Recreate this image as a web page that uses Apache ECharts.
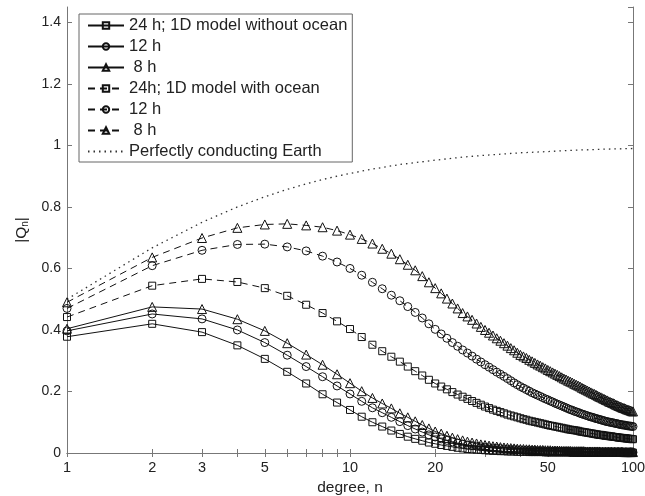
<!DOCTYPE html>
<html>
<head>
<meta charset="utf-8">
<script src="https://cdn.jsdelivr.net/npm/echarts@6/dist/echarts.min.js"></script>
<style>
  html, body { margin: 0; padding: 0; background: #fff; }
  #chart { width: 645px; height: 496px; }
</style>
</head>
<body>
<div id="chart"></div>
<script>
// degree n = 1..100 (one marker per degree)
const degrees = Array.from({ length: 100 }, (_, i) => i + 1);

const xLabelValues = [1, 2, 3, 5, 10, 20, 50, 100];
const xTickValues = [1, 2, 3, 4, 5, 6, 7, 8, 9, 10, 20, 30, 40, 50, 60, 70, 80, 90, 100];

// 1D model without ocean
const noOcean24 = [
  0.378, 0.420, 0.393, 0.350, 0.306, 0.264, 0.226, 0.191, 0.164, 0.140,
  0.118, 0.100, 0.086, 0.073, 0.062, 0.053, 0.046, 0.040, 0.034, 0.030,
  0.026, 0.023, 0.020, 0.017, 0.015, 0.013, 0.012, 0.011, 0.010, 0.009,
  0.008, 0.007, 0.007, 0.006, 0.006, 0.005, 0.005, 0.005, 0.004, 0.004,
  0.004, 0.004, 0.003, 0.003, 0.003, 0.003, 0.003, 0.003, 0.002, 0.002,
  0.002, 0.002, 0.002, 0.002, 0.002, 0.002, 0.002, 0.002, 0.002, 0.002,
  0.001, 0.001, 0.001, 0.001, 0.001, 0.001, 0.001, 0.001, 0.001, 0.001,
  0.001, 0.001, 0.001, 0.001, 0.001, 0.001, 0.001, 0.001, 0.001, 0.001,
  0.001, 0.001, 0.001, 0.001, 0.001, 0.001, 0.001, 0.001, 0.001, 0.001,
  0.001, 0.001, 0.001, 0.001, 0.001, 0.001, 0.001, 0.001, 0.001, 0.001
];
const noOcean12 = [
  0.397, 0.452, 0.436, 0.400, 0.359, 0.318, 0.281, 0.248, 0.218, 0.192,
  0.168, 0.147, 0.131, 0.116, 0.102, 0.089, 0.078, 0.068, 0.059, 0.052,
  0.046, 0.041, 0.036, 0.032, 0.029, 0.026, 0.024, 0.022, 0.020, 0.019,
  0.017, 0.016, 0.015, 0.014, 0.013, 0.012, 0.011, 0.011, 0.010, 0.010,
  0.009, 0.009, 0.008, 0.008, 0.008, 0.007, 0.007, 0.007, 0.006, 0.006,
  0.006, 0.006, 0.006, 0.005, 0.005, 0.005, 0.005, 0.005, 0.005, 0.004,
  0.004, 0.004, 0.004, 0.004, 0.004, 0.004, 0.004, 0.004, 0.003, 0.003,
  0.003, 0.003, 0.003, 0.003, 0.003, 0.003, 0.003, 0.003, 0.003, 0.003,
  0.003, 0.003, 0.003, 0.003, 0.002, 0.002, 0.002, 0.002, 0.002, 0.002,
  0.002, 0.002, 0.002, 0.002, 0.002, 0.002, 0.002, 0.002, 0.002, 0.002
];
const noOcean8 = [
  0.404, 0.475, 0.468, 0.435, 0.397, 0.357, 0.320, 0.287, 0.256, 0.227,
  0.201, 0.179, 0.161, 0.145, 0.129, 0.116, 0.103, 0.091, 0.080, 0.070,
  0.063, 0.056, 0.050, 0.045, 0.041, 0.037, 0.034, 0.031, 0.028, 0.026,
  0.024, 0.022, 0.021, 0.019, 0.018, 0.017, 0.016, 0.015, 0.014, 0.013,
  0.013, 0.012, 0.012, 0.011, 0.011, 0.010, 0.010, 0.010, 0.009, 0.009,
  0.009, 0.008, 0.008, 0.008, 0.008, 0.007, 0.007, 0.007, 0.007, 0.007,
  0.006, 0.006, 0.006, 0.006, 0.006, 0.006, 0.006, 0.005, 0.005, 0.005,
  0.005, 0.005, 0.005, 0.005, 0.005, 0.005, 0.004, 0.004, 0.004, 0.004,
  0.004, 0.004, 0.004, 0.004, 0.004, 0.004, 0.004, 0.004, 0.004, 0.004,
  0.004, 0.004, 0.003, 0.003, 0.003, 0.003, 0.003, 0.003, 0.003, 0.003
];

// 1D model with ocean
const ocean24 = [
  0.442, 0.544, 0.566, 0.556, 0.536, 0.511, 0.482, 0.455, 0.428, 0.403,
  0.377, 0.352, 0.331, 0.313, 0.297, 0.281, 0.266, 0.252, 0.238, 0.226,
  0.216, 0.207, 0.198, 0.190, 0.183, 0.176, 0.169, 0.163, 0.157, 0.151,
  0.146, 0.141, 0.137, 0.133, 0.129, 0.125, 0.122, 0.119, 0.116, 0.113,
  0.110, 0.108, 0.105, 0.103, 0.101, 0.099, 0.097, 0.095, 0.093, 0.091,
  0.089, 0.088, 0.086, 0.085, 0.083, 0.082, 0.080, 0.079, 0.077, 0.076,
  0.075, 0.074, 0.073, 0.072, 0.070, 0.069, 0.068, 0.067, 0.066, 0.065,
  0.064, 0.063, 0.062, 0.061, 0.060, 0.059, 0.059, 0.058, 0.057, 0.056,
  0.056, 0.055, 0.054, 0.054, 0.053, 0.052, 0.052, 0.051, 0.050, 0.050,
  0.049, 0.049, 0.048, 0.048, 0.047, 0.047, 0.046, 0.046, 0.045, 0.045
];
const ocean12 = [
  0.470, 0.609, 0.659, 0.678, 0.679, 0.670, 0.657, 0.640, 0.621, 0.600,
  0.578, 0.555, 0.534, 0.513, 0.495, 0.476, 0.457, 0.439, 0.420, 0.402,
  0.387, 0.373, 0.359, 0.347, 0.335, 0.325, 0.315, 0.305, 0.296, 0.287,
  0.279, 0.271, 0.263, 0.256, 0.249, 0.242, 0.235, 0.228, 0.222, 0.216,
  0.211, 0.206, 0.201, 0.196, 0.192, 0.188, 0.184, 0.180, 0.176, 0.173,
  0.169, 0.166, 0.162, 0.159, 0.156, 0.153, 0.150, 0.147, 0.144, 0.141,
  0.139, 0.136, 0.134, 0.132, 0.129, 0.127, 0.125, 0.123, 0.121, 0.119,
  0.117, 0.116, 0.114, 0.112, 0.111, 0.109, 0.108, 0.106, 0.105, 0.103,
  0.102, 0.101, 0.100, 0.099, 0.098, 0.097, 0.096, 0.095, 0.094, 0.093,
  0.092, 0.091, 0.091, 0.090, 0.089, 0.088, 0.088, 0.087, 0.087, 0.086
];
const ocean8 = [
  0.490, 0.636, 0.699, 0.732, 0.743, 0.745, 0.740, 0.734, 0.723, 0.710,
  0.696, 0.681, 0.664, 0.648, 0.630, 0.612, 0.594, 0.575, 0.555, 0.536,
  0.519, 0.502, 0.486, 0.470, 0.455, 0.444, 0.433, 0.421, 0.410, 0.400,
  0.391, 0.382, 0.373, 0.365, 0.357, 0.349, 0.341, 0.334, 0.326, 0.319,
  0.314, 0.309, 0.303, 0.298, 0.293, 0.288, 0.284, 0.279, 0.275, 0.270,
  0.266, 0.262, 0.258, 0.254, 0.250, 0.246, 0.242, 0.239, 0.235, 0.232,
  0.229, 0.225, 0.222, 0.219, 0.216, 0.212, 0.209, 0.206, 0.203, 0.200,
  0.197, 0.194, 0.192, 0.189, 0.186, 0.183, 0.181, 0.178, 0.176, 0.173,
  0.171, 0.168, 0.166, 0.164, 0.162, 0.160, 0.157, 0.155, 0.153, 0.151,
  0.149, 0.147, 0.146, 0.144, 0.142, 0.141, 0.139, 0.138, 0.136, 0.135
];

// perfectly conducting Earth
const perfectDegrees = [1, 2, 3, 4, 5, 6, 7, 8, 9, 10, 12, 15, 20, 25, 30, 40, 50, 60, 70, 80, 90, 100];
const perfectValues = [0.500, 0.667, 0.750, 0.800, 0.833, 0.857, 0.875, 0.889, 0.900, 0.909,
  0.923, 0.938, 0.952, 0.962, 0.968, 0.976, 0.980, 0.984, 0.986, 0.988, 0.989, 0.990];

const pair = (xs, ys) => xs.map((x, i) => [x, ys[i]]);

const FONT = 'Liberation Sans';
const INK = '#111';

const markerSeries = (name, values, symbol, size, dashed) => ({
  name,
  type: 'line',
  data: pair(degrees, values),
  symbol,
  symbolSize: size,
  showAllSymbol: true,
  itemStyle: { color: 'rgba(0,0,0,0)', borderColor: INK, borderWidth: 1 },
  lineStyle: { color: INK, width: 1, type: dashed ? [7, 5] : 'solid' },
  emphasis: { disabled: true },
  z: 3
});

const chart = echarts.init(document.getElementById('chart'));

chart.setOption({
  animation: false,
  textStyle: { fontFamily: FONT },
  grid: { left: 67, right: 12, top: 7, bottom: 43, outerBoundsMode: 'none' },
  legend: {
    orient: 'vertical',
    left: 79,
    top: 14,
    padding: [3, 5, 2, 8],
    itemGap: 4,
    itemWidth: 36,
    itemHeight: 8,
    borderColor: '#666',
    borderWidth: 1,
    backgroundColor: '#fff',
    textStyle: { fontFamily: FONT, fontSize: 16.5, color: '#222', lineHeight: 17 },
    data: [
      '24 h; 1D model without ocean', '12 h', ' 8 h',
      '24h; 1D model with ocean', '12 h ', ' 8 h ',
      { name: 'Perfectly conducting Earth', itemStyle: { opacity: 0 } }
    ]
  },
  xAxis: [{
    type: 'log',
    logBase: 10,
    min: 1,
    max: 100,
    name: 'degree, n',
    nameLocation: 'middle',
    nameGap: 25,
    nameTextStyle: { fontSize: 15.5, color: '#222' },
    axisLine: { lineStyle: { color: '#777', width: 1 } },
    axisTick: { inside: true, length: 4, lineStyle: { color: '#777' }, customValues: xTickValues },
    axisLabel: { fontSize: 14.5, color: '#222', margin: 7, customValues: xLabelValues, formatter: v => String(Math.round(v)) },
    splitLine: { show: false },
    minorTick: { show: false }
  }, {
    type: 'log',
    logBase: 10,
    min: 1,
    max: 100,
    position: 'top',
    axisLine: { lineStyle: { color: '#777', width: 1 } },
    axisTick: { inside: true, length: 4, lineStyle: { color: '#777' }, customValues: xTickValues },
    axisLabel: { show: false },
    splitLine: { show: false }
  }],
  yAxis: [{
    type: 'value',
    min: 0,
    max: 1.45,
    interval: 0.2,
    name: '|Q{sub|n}|',
    nameLocation: 'middle',
    nameGap: 37,
    nameRotate: 90,
    nameTextStyle: {
      fontSize: 15.5, color: '#222',
      rich: { sub: { fontSize: 10, verticalAlign: 'bottom', padding: [6, 0, 0, 0], color: '#222' } }
    },
    axisLine: { show: true, lineStyle: { color: '#777', width: 1 } },
    axisTick: { show: true, inside: true, length: 5, lineStyle: { color: '#777' } },
    axisLabel: { fontSize: 14, color: '#222', margin: 6, showMaxLabel: false, formatter: v => String(+v.toFixed(1)) },
    splitLine: { show: false }
  }, {
    type: 'value',
    min: 0,
    max: 1.45,
    interval: 0.2,
    position: 'right',
    axisLine: { show: true, lineStyle: { color: '#777', width: 1 } },
    axisTick: { show: true, inside: true, length: 5, lineStyle: { color: '#777' } },
    axisLabel: { show: false },
    splitLine: { show: false }
  }],
  series: [
    markerSeries('24 h; 1D model without ocean', noOcean24, 'rect', 7, false),
    markerSeries('12 h', noOcean12, 'circle', 8, false),
    markerSeries(' 8 h', noOcean8, 'triangle', 9, false),
    markerSeries('24h; 1D model with ocean', ocean24, 'rect', 7, true),
    markerSeries('12 h ', ocean12, 'circle', 8, true),
    markerSeries(' 8 h ', ocean8, 'triangle', 9, true),
    {
      name: 'Perfectly conducting Earth',
      type: 'line',
      data: pair(perfectDegrees, perfectValues),
      symbol: 'none',
      itemStyle: { color: '#333' },
      lineStyle: { color: '#333', width: 1.3, type: [1.5, 4] },
      emphasis: { disabled: true },
      z: 2
    }
  ]
});
</script>
</body>
</html>
